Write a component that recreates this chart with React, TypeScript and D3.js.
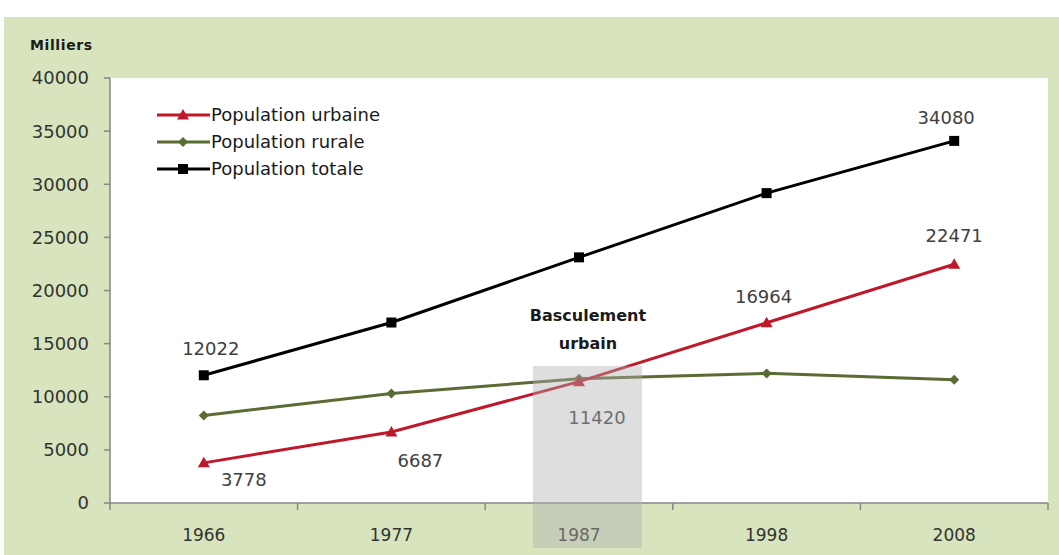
import React from "react";
import * as d3 from "d3";

const years = ["1966", "1977", "1987", "1998", "2008"];
const urbaine = [3778, 6687, 11420, 16964, 22471];
const rurale = [8244, 10300, 11700, 12200, 11609];
const totale = [12022, 16987, 23120, 29164, 34080];
const yTicks = [0, 5000, 10000, 15000, 20000, 25000, 30000, 35000, 40000];
const legendItems = ["Population urbaine", "Population rurale", "Population totale"];

// label placement offsets (pixels) relative to points
const labelSpecs = [
  { series: "totale", i: 0, dx: 7, dy: -20 },
  { series: "totale", i: 4, dx: -8, dy: -17 },
  { series: "urbaine", i: 0, dx: 40, dy: 23 },
  { series: "urbaine", i: 1, dx: 29, dy: 35 },
  { series: "urbaine", i: 2, dx: 18, dy: 42 },
  { series: "urbaine", i: 3, dx: -3, dy: -20 },
  { series: "urbaine", i: 4, dx: 0, dy: -22 },
];

const W = 1059;
const H = 555;
const FONT = "'DejaVu Sans', sans-serif";

export default function App() {
  const x = d3.scaleBand<string>().domain(years).range([110, 1048]).padding(0);
  const y = d3.scaleLinear().domain([0, 40000]).range([503, 78]);
  const cx = (i: number) => (x(years[i]) as number) + x.bandwidth() / 2;
  const line = d3
    .line<number>()
    .x((_, i) => cx(i))
    .y((d) => y(d));

  const RED = "#c0182b";
  const GREEN = "#5a6b33";
  const BLACK = "#000000";
  const seriesMap: Record<string, number[]> = { urbaine, rurale, totale };

  const tri = (px: number, py: number, s: number) =>
    `M${px},${py - s} L${px + s},${py + s * 0.75} L${px - s},${py + s * 0.75} Z`;
  const diamond = (px: number, py: number, s: number) =>
    `M${px},${py - s} L${px + s},${py} L${px},${py + s} L${px - s},${py} Z`;

  const boundaries = d3.range(years.length + 1).map((i) => 110 + i * x.bandwidth());

  const legendColors = [RED, GREEN, BLACK];
  const legendY = [115, 142, 169];

  const marker = (kind: number, px: number, py: number, k: string | number) => {
    if (kind === 0) return <path key={k} d={tri(px, py, 6)} fill={RED} />;
    if (kind === 1) return <path key={k} d={diamond(px, py, 5)} fill={GREEN} />;
    return <rect key={k} x={px - 5} y={py - 5} width={10} height={10} fill={BLACK} />;
  };

  return (
    <svg
      width={W}
      height={H}
      style={{ position: "absolute", left: 0, top: 0, display: "block" }}
      fontFamily={FONT}
    >
      <rect x={0} y={0} width={W} height={H} fill="#ffffff" />
      <rect x={4} y={17} width={W - 4} height={H - 17} fill="#d7e4bd" />
      <rect x={110} y={78} width={1048 - 110} height={503 - 78} fill="#ffffff" />

      <text x={30} y={50} fontSize={14} fontWeight="bold" fill="#1a1a1a" letterSpacing={0.6}>
        Milliers
      </text>

      {/* y axis */}
      <line x1={110} x2={110} y1={78} y2={503} stroke="#868686" strokeWidth={1.5} />
      {yTicks.map((t) => (
        <g key={t}>
          <line x1={104} x2={110} y1={y(t)} y2={y(t)} stroke="#868686" strokeWidth={1.5} />
          <text x={89} y={y(t)} dy="0.36em" textAnchor="end" fontSize={18} fill="#333">
            {t}
          </text>
        </g>
      ))}

      {/* x axis */}
      <line x1={110} x2={1048} y1={503} y2={503} stroke="#868686" strokeWidth={1.5} />
      {boundaries.map((b, i) => (
        <line key={i} x1={b} x2={b} y1={503} y2={510} stroke="#868686" strokeWidth={1.5} />
      ))}
      {years.map((yr, i) => (
        <text key={yr} x={cx(i)} y={541} textAnchor="middle" fontSize={17} fill="#333">
          {yr}
        </text>
      ))}

      {/* lines */}
      <path d={line(rurale) || ""} fill="none" stroke={GREEN} strokeWidth={3} />
      <path d={line(urbaine) || ""} fill="none" stroke={RED} strokeWidth={3} />
      <path d={line(totale) || ""} fill="none" stroke={BLACK} strokeWidth={3} />
      {rurale.map((v, i) => marker(1, cx(i), y(v), "r" + i))}
      {urbaine.map((v, i) => marker(0, cx(i), y(v), "u" + i))}
      {totale.map((v, i) => marker(2, cx(i), y(v), "t" + i))}

      {/* data labels */}
      {labelSpecs.map((s, k) => {
        const v = seriesMap[s.series][s.i];
        return (
          <text
            key={k}
            x={cx(s.i) + s.dx}
            y={y(v) + s.dy}
            textAnchor="middle"
            fontSize={18}
            fill="#404040"
          >
            {v}
          </text>
        );
      })}

      <text x={588} y={321} textAnchor="middle" fontSize={16} fontWeight="bold" fill="#1a1a1a">
        Basculement
      </text>
      <text x={588} y={349} textAnchor="middle" fontSize={16} fontWeight="bold" fill="#1a1a1a">
        urbain
      </text>

      {/* highlight overlay */}
      <rect x={533} y={366} width={109} height={182} fill="#b0b0b0" opacity={0.42} />

      {/* legend */}
      {legendItems.map((name, i) => (
        <g key={name}>
          <line x1={157} x2={210} y1={legendY[i]} y2={legendY[i]} stroke={legendColors[i]} strokeWidth={3} />
          {marker(i, 183, legendY[i], "lg" + i)}
          <text x={211} y={legendY[i]} dy="0.36em" fontSize={18} fill="#1a1a1a">
            {name}
          </text>
        </g>
      ))}
    </svg>
  );
}
